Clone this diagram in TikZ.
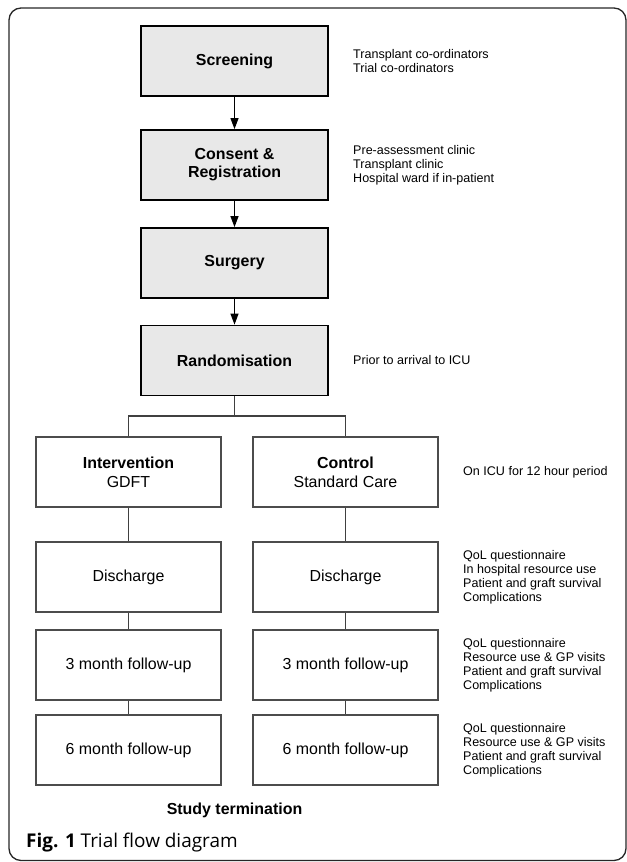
\documentclass[tikz,border=0pt]{standalone}
\usepackage{fontspec}
\setmainfont{Liberation Sans}
\newfontfamily\capfont{Open Sans}
\usetikzlibrary{arrows.meta}
\begin{document}
\begin{tikzpicture}[x=1bp,y=-1bp,
  graybox/.style={draw=black,line width=1.8bp,fill=black!9,minimum width=187bp,minimum height=70bp,inner sep=0pt,align=center,font=\fontsize{16}{18}\selectfont\bfseries},
  whitebox/.style={draw=black!70,line width=1.1bp,fill=white,minimum width=185bp,minimum height=70bp,inner sep=0pt,align=center,font=\fontsize{16}{19}\selectfont},
  note/.style={anchor=west,align=left,inner sep=0pt,font=\fontsize{12.6}{14}\selectfont},
  link/.style={draw=black!75,line width=1.1bp},
  arr/.style={draw=black,line width=1.1bp,-{Triangle[length=11bp,width=8bp]}}]
\useasboundingbox (0,0) rectangle (627,862);
\draw[black!85,line width=1.3bp,rounded corners=12bp] (9,8) rectangle (626,860.5);

\node[graybox] (scr) at (234.5,61) {Screening};
\node[graybox] (con) at (234.5,165) {Consent \&\\Registration};
\node[graybox] (sur) at (234.5,263) {Surgery};
\node[graybox] (ran) at (234.5,360.5) {Randomisation};

\node[whitebox] (int) at (128.5,472) {\textbf{Intervention}\\GDFT};
\node[whitebox] (ctl) at (345.5,472) {\textbf{Control}\\Standard Care};
\node[whitebox] (dis1) at (128.5,577) {Discharge};
\node[whitebox] (dis2) at (345.5,577) {Discharge};
\node[whitebox] (tri1) at (128.5,665) {3 month follow-up};
\node[whitebox] (tri2) at (345.5,665) {3 month follow-up};
\node[whitebox] (six1) at (128.5,750) {6 month follow-up};
\node[whitebox] (six2) at (345.5,750) {6 month follow-up};

\node[font=\fontsize{16}{18}\selectfont\bfseries] (end) at (234.5,810) {Study termination};
\node[anchor=west,inner sep=0pt] (cap) at (26,843) {\capfont\fontsize{19}{23}\selectfont\textbf{Fig. 1} Trial flow diagram};

\node[note] (nscr) at (353,61) {Transplant co-ordinators\\Trial co-ordinators};
\node[note] (ncon) at (353,165) {Pre-assessment clinic\\Transplant clinic\\Hospital ward if in-patient};
\node[note] (nran) at (353,360.5) {Prior to arrival to ICU};
\node[note] (nint) at (463,472) {On ICU for 12 hour period};
\node[note] (ndis) at (463,577) {QoL questionnaire\\In hospital resource use\\Patient and graft survival\\Complications};
\node[note] (ntri) at (463,665) {QoL questionnaire\\Resource use \& GP visits\\Patient and graft survival\\Complications};
\node[note] (nsix) at (463,750) {QoL questionnaire\\Resource use \& GP visits\\Patient and graft survival\\Complications};

\draw[arr] (scr) -- (con);
\draw[arr] (con) -- (sur);
\draw[arr] (sur) -- (ran);
\coordinate (bj) at (234.5,416);
\draw[link] (ran.south) -- (bj);
\draw[link] (int.north) |- (bj) -| (ctl.north);
\draw[link] (int) -- (dis1);
\draw[link] (dis1) -- (tri1);
\draw[link] (tri1) -- (six1);
\draw[link] (ctl) -- (dis2);
\draw[link] (dis2) -- (tri2);
\draw[link] (tri2) -- (six2);
\end{tikzpicture}
\end{document}
